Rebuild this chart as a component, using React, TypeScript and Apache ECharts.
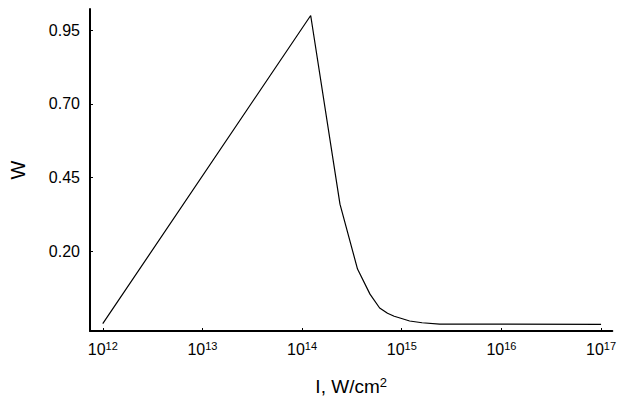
import React, { useEffect, useRef } from "react";
import * as echarts from "echarts";

// Intensity I (W/cm^2)
const intensity = [1e12, 1.22e14, 2.4e14, 3.6e14, 4.8e14, 6.0e14, 7.2e14, 8.4e14, 9.6e14, 1.2e15, 1.6e15, 2.4e15, 1e17];
// W values
const wValues = [-0.045, 1.0, 0.36, 0.14, 0.055, 0.008, -0.01, -0.02, -0.026, -0.036, -0.042, -0.0465, -0.0475];
// tick positions
const xTicks = [1e12, 1e13, 1e14, 1e15, 1e16, 1e17];
const yTicks = [0.2, 0.45, 0.7, 0.95];

export default function App() {
  const ref = useRef<HTMLDivElement>(null);
  useEffect(() => {
    document.body.style.margin = "0";
    const chart = echarts.init(ref.current!, null, { renderer: "svg" });
    const font = "'Liberation Sans', Arial, Helvetica, sans-serif";
    chart.setOption({
      animation: false,
      grid: { left: 86, top: 9, right: 0, bottom: 65, containLabel: false },
      xAxis: {
        type: "log",
        logBase: 10,
        min: Math.pow(10, 11.872),
        max: Math.pow(10, 17.113),
        name: "I, W/cm{s|2}",
        nameLocation: "middle",
        nameGap: 45,
        nameTextStyle: {
          color: "#000",
          fontFamily: font,
          fontSize: 19,
          rich: { s: { fontSize: 13, verticalAlign: "top", fontFamily: font, color: "#000", padding: [0, 0, 8, 0] } },
        },
        axisLine: { show: true, onZero: false, lineStyle: { color: "#000", width: 2 } },
        axisTick: { show: true, inside: true, length: 3, customValues: xTicks, lineStyle: { color: "#000", width: 1 } },
        axisLabel: {
          customValues: xTicks,
          margin: 9,
          color: "#000",
          fontFamily: font,
          formatter: (v: number) => "{b|10}{s|" + Math.round(Math.log10(v)) + "}",
          rich: {
            b: { fontSize: 16, fontFamily: font, color: "#000" },
            s: { fontSize: 11, fontFamily: font, color: "#000", verticalAlign: "top", padding: [0, 0, 7, 0] },
          },
        },
        splitLine: { show: false },
        minorTick: { show: false },
      },
      yAxis: {
        type: "value",
        min: -0.07,
        max: 1.022,
        name: "W",
        nameLocation: "middle",
        nameGap: 62,
        nameTextStyle: { color: "#000", fontFamily: font, fontSize: 20 },
        axisLine: { show: true, onZero: false, lineStyle: { color: "#000", width: 2 } },
        axisTick: { show: true, inside: true, length: 3, customValues: yTicks, lineStyle: { color: "#000", width: 1 } },
        axisLabel: {
          customValues: yTicks,
          margin: 10,
          color: "#000",
          fontFamily: font,
          fontSize: 16,
          formatter: (v: number) => v.toFixed(2),
        },
        splitLine: { show: false },
      },
      series: [
        {
          type: "line",
          data: intensity.map((x, i) => [x, wValues[i]]),
          showSymbol: false,
          lineStyle: { color: "#000", width: 1.2 },
        },
      ],
    });
    return () => chart.dispose();
  }, []);
  return <div ref={ref} style={{ width: 619, height: 401, position: "absolute", left: 0, top: 0 }} />;
}
